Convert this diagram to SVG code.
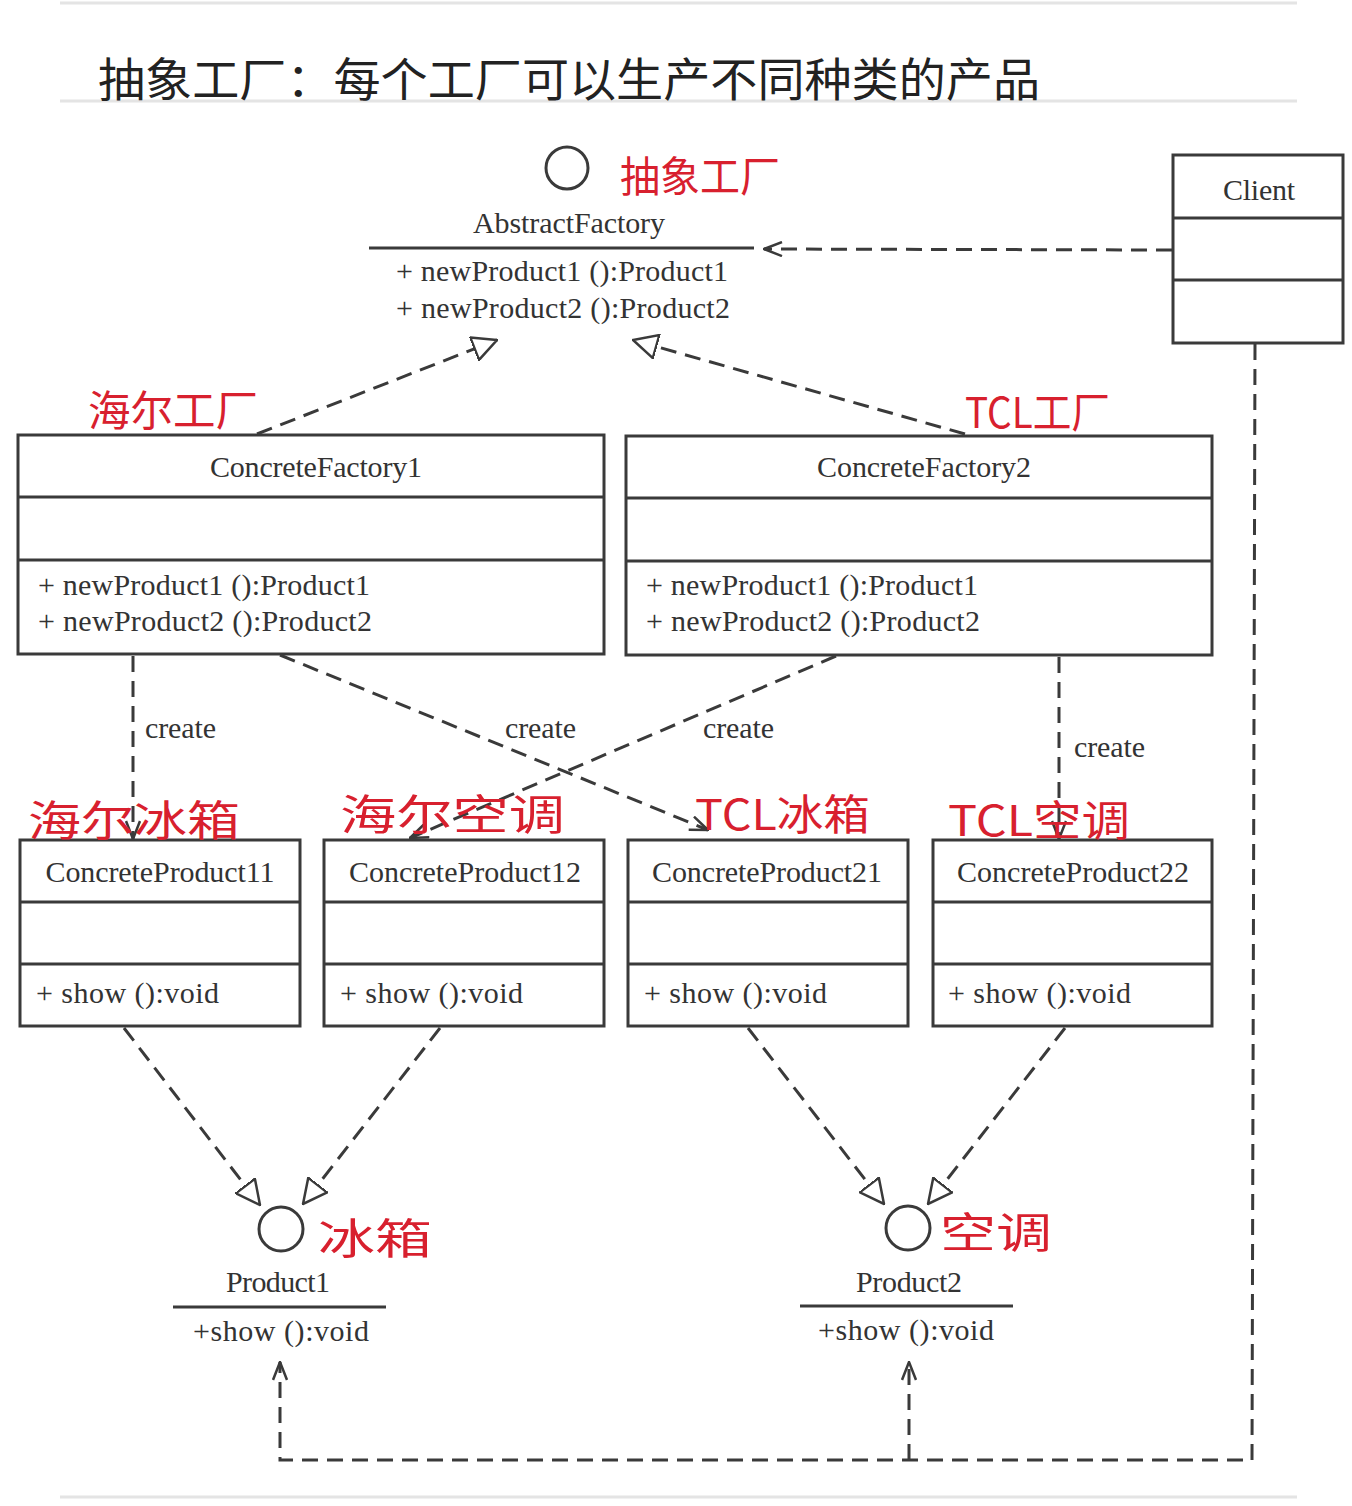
<svg xmlns="http://www.w3.org/2000/svg" width="1352" height="1506" viewBox="0 0 1352 1506">
<defs>
<style>
.t{font-family:"Liberation Serif","Times New Roman",serif;font-size:30px;fill:#333}
.m{text-anchor:middle}
.box{fill:#fff;stroke:#3a3a3a;stroke-width:3}
.ln{stroke:#3a3a3a;stroke-width:3;fill:none}
.dash{stroke:#3a3a3a;stroke-width:3;fill:none;stroke-dasharray:16 9}
.red{font-family:"Noto Sans CJK SC","Noto Sans CJK JP",sans-serif;fill:#d8202e;font-size:42px}
.title{font-family:"Noto Sans CJK SC","Noto Sans CJK JP",sans-serif;fill:#222;font-size:46px}
.rule{stroke:#e4e4e4;stroke-width:3}
</style>
<marker id="tri" viewBox="0 0 26 26" refX="25" refY="13" markerWidth="26" markerHeight="26" markerUnits="userSpaceOnUse" orient="auto">
<path d="M1,1 L25,13 L1,25 Z" fill="#fff" stroke="#3a3a3a" stroke-width="2.5"/>
</marker>
<marker id="open" viewBox="0 0 20 16" refX="19" refY="8" markerWidth="20" markerHeight="16" markerUnits="userSpaceOnUse" orient="auto">
<path d="M1,1 L19,8 L1,15" fill="none" stroke="#3a3a3a" stroke-width="2.5"/>
</marker>
</defs>
<rect width="1352" height="1506" fill="#fff"/>
<line class="rule" x1="60" y1="3" x2="1297" y2="3"/>
<line class="rule" x1="60" y1="101" x2="1297" y2="101"/>
<line class="rule" x1="60" y1="1497" x2="1297" y2="1497"/>
<text class="title" x="98" y="96" textLength="942" lengthAdjust="spacingAndGlyphs">抽象工厂：每个工厂可以生产不同种类的产品</text>

<g id="connectors">
<line class="dash" x1="1172" y1="250" x2="764" y2="249" marker-end="url(#open)"/>
<line class="dash" x1="257" y1="434" x2="497" y2="340" marker-end="url(#tri)"/>
<line class="dash" x1="965" y1="434" x2="633" y2="340" marker-end="url(#tri)"/>
<line class="dash" x1="133" y1="656" x2="133" y2="839" marker-end="url(#open)"/>
<line class="dash" x1="280" y1="655" x2="708" y2="830" marker-end="url(#open)"/>
<line class="dash" x1="836" y1="656" x2="410" y2="838" marker-end="url(#open)"/>
<line class="dash" x1="1059" y1="657" x2="1059" y2="839" marker-end="url(#open)"/>
<line class="dash" x1="124" y1="1028" x2="260" y2="1205" marker-end="url(#tri)"/>
<line class="dash" x1="440" y1="1028" x2="303" y2="1204" marker-end="url(#tri)"/>
<line class="dash" x1="748" y1="1028" x2="884" y2="1204" marker-end="url(#tri)"/>
<line class="dash" x1="1065" y1="1028" x2="928" y2="1204" marker-end="url(#tri)"/>
<polyline class="dash" points="1255,344 1252,1460 280,1460 280,1362" marker-end="url(#open)"/>
<line class="dash" x1="909" y1="1460" x2="909" y2="1362" marker-end="url(#open)"/>
<text class="t" x="145" y="738" textLength="71">create</text>
<text class="t" x="505" y="738" textLength="71">create</text>
<text class="t" x="703" y="738" textLength="71">create</text>
<text class="t" x="1074" y="757" textLength="71">create</text>
</g>

<g id="AbstractFactory">
<circle cx="567" cy="168" r="21" class="ln" stroke-width="2.5"/>
<text class="t m" x="569" y="233" textLength="192">AbstractFactory</text>
<line class="ln" x1="369" y1="248" x2="754" y2="248"/>
<text class="t" x="396" y="281" textLength="332">+ newProduct1 ():Product1</text>
<text class="t" x="396" y="318" textLength="334">+ newProduct2 ():Product2</text>
</g>

<g id="Client">
<rect class="box" x="1173" y="155" width="170" height="188"/>
<line class="ln" x1="1173" y1="218" x2="1343" y2="218"/>
<line class="ln" x1="1173" y1="280" x2="1343" y2="280"/>
<text class="t m" x="1259" y="200" textLength="72">Client</text>
</g>

<g id="ConcreteFactory1">
<rect class="box" x="18" y="435" width="586" height="219"/>
<line class="ln" x1="18" y1="497" x2="604" y2="497"/>
<line class="ln" x1="18" y1="560" x2="604" y2="560"/>
<text class="t m" x="316" y="477" textLength="212">ConcreteFactory1</text>
<text class="t" x="38" y="595" textLength="332">+ newProduct1 ():Product1</text>
<text class="t" x="38" y="631" textLength="334">+ newProduct2 ():Product2</text>
</g>

<g id="ConcreteFactory2">
<rect class="box" x="626" y="436" width="586" height="219"/>
<line class="ln" x1="626" y1="498" x2="1212" y2="498"/>
<line class="ln" x1="626" y1="561" x2="1212" y2="561"/>
<text class="t m" x="924" y="477" textLength="214">ConcreteFactory2</text>
<text class="t" x="646" y="595" textLength="332">+ newProduct1 ():Product1</text>
<text class="t" x="646" y="631" textLength="334">+ newProduct2 ():Product2</text>
</g>

<g id="ConcreteProduct11">
<rect class="box" x="20" y="840" width="280" height="186"/>
<line class="ln" x1="20" y1="902" x2="300" y2="902"/>
<line class="ln" x1="20" y1="964" x2="300" y2="964"/>
<text class="t m" x="160" y="882" textLength="229">ConcreteProduct11</text>
<text class="t" x="36" y="1003" textLength="183">+ show ():void</text>
</g>
<g id="ConcreteProduct12">
<rect class="box" x="324" y="840" width="280" height="186"/>
<line class="ln" x1="324" y1="902" x2="604" y2="902"/>
<line class="ln" x1="324" y1="964" x2="604" y2="964"/>
<text class="t m" x="465" y="882" textLength="232">ConcreteProduct12</text>
<text class="t" x="340" y="1003" textLength="183">+ show ():void</text>
</g>
<g id="ConcreteProduct21">
<rect class="box" x="628" y="840" width="280" height="186"/>
<line class="ln" x1="628" y1="902" x2="908" y2="902"/>
<line class="ln" x1="628" y1="964" x2="908" y2="964"/>
<text class="t m" x="767" y="882" textLength="230">ConcreteProduct21</text>
<text class="t" x="644" y="1003" textLength="183">+ show ():void</text>
</g>
<g id="ConcreteProduct22">
<rect class="box" x="933" y="840" width="279" height="186"/>
<line class="ln" x1="933" y1="902" x2="1212" y2="902"/>
<line class="ln" x1="933" y1="964" x2="1212" y2="964"/>
<text class="t m" x="1073" y="882" textLength="232">ConcreteProduct22</text>
<text class="t" x="948" y="1003" textLength="183">+ show ():void</text>
</g>

<g id="Product1">
<circle cx="281" cy="1229" r="22" class="ln" stroke-width="2.5"/>
<text class="t m" x="278" y="1292" textLength="104">Product1</text>
<line class="ln" x1="173" y1="1307" x2="386" y2="1307"/>
<text class="t m" x="281" y="1341" textLength="176">+show ():void</text>
</g>
<g id="Product2">
<circle cx="908" cy="1228" r="22" class="ln" stroke-width="2.5"/>
<text class="t m" x="909" y="1292" textLength="106">Product2</text>
<line class="ln" x1="800" y1="1306" x2="1013" y2="1306"/>
<text class="t m" x="906" y="1340" textLength="176">+show ():void</text>
</g>

<g id="annotations">
<text class="red" x="620" y="192" textLength="160" lengthAdjust="spacingAndGlyphs">抽象工厂</text>
<text class="red" x="88" y="426" textLength="170" lengthAdjust="spacingAndGlyphs">海尔工厂</text>
<text class="red" x="965" y="428" textLength="145" lengthAdjust="spacingAndGlyphs">TCL工厂</text>
<text class="red" x="28" y="836" textLength="212" lengthAdjust="spacingAndGlyphs">海尔冰箱</text>
<text class="red" x="340" y="830" textLength="225" lengthAdjust="spacingAndGlyphs">海尔空调</text>
<text class="red" x="695" y="830" textLength="175" lengthAdjust="spacingAndGlyphs">TCL冰箱</text>
<text class="red" x="948" y="836" textLength="182" lengthAdjust="spacingAndGlyphs">TCL空调</text>
<text class="red" x="318" y="1254" textLength="114" lengthAdjust="spacingAndGlyphs">冰箱</text>
<text class="red" x="940" y="1248" textLength="112" lengthAdjust="spacingAndGlyphs">空调</text>
</g>
</svg>
